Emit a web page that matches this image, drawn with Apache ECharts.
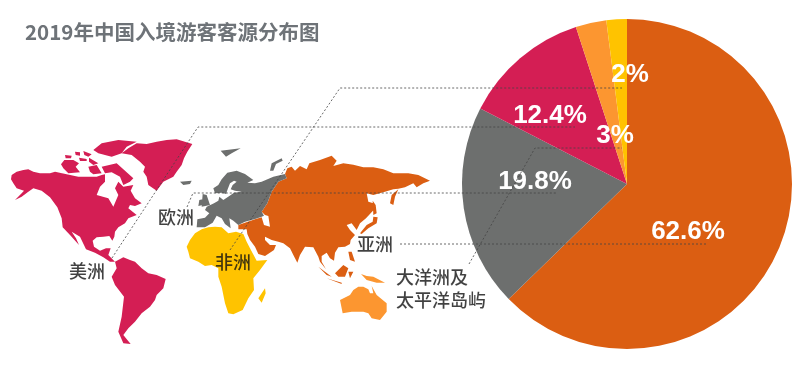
<!DOCTYPE html>
<html><head><meta charset="utf-8">
<style>html,body{margin:0;padding:0;background:#fff}#c{width:800px;height:367px}</style>
<script src="https://cdn.jsdelivr.net/npm/echarts@6/dist/echarts.min.js"></script>
</head><body><div id="c"></div>
<script>
const titleText = '2019年中国入境游客客源分布图';
const regions = ['亚洲','欧洲','美洲','大洋洲及太平洋岛屿','非洲'];
const shares = [62.6,19.8,12.4,3,2];
const colors = ['#DB5E12','#6D6F6E','#D41E54','#FC9630','#FFC300'];

// Continent outlines, in zoomed (3x) crop coordinates.
const Z1 = [0,120], Z2 = [150,130], Z3 = [190,150], Z5 = [55,135];
const americasZ1 = [
 [[35,165],[50,155],[70,150],[85,148],[100,155],[120,160],[150,160],[165,155],[200,163],[235,170],[270,170],[290,170],[305,165],[315,163],[315,185],[300,200],[290,225],[325,235],[340,260],[355,225],[345,205],[355,185],[370,200],[400,195],[392,212],[405,235],[425,250],[405,258],[390,255],[385,265],[410,285],[385,295],[375,310],[355,322],[345,335],[343,350],[337,362],[328,348],[310,350],[290,352],[278,362],[282,380],[300,392],[318,385],[332,385],[325,405],[345,425],[330,425],[310,412],[285,398],[258,388],[240,350],[215,335],[228,355],[237,375],[210,345],[188,322],[185,295],[172,262],[150,232],[125,212],[100,205],[85,215],[65,230],[45,240],[65,220],[72,212],[50,205],[40,190],[33,178]],
 [[345,425],[370,412],[390,420],[405,425],[425,445],[445,460],[470,465],[497,477],[490,505],[470,525],[465,540],[450,560],[425,580],[405,605],[385,625],[370,645],[392,672],[370,670],[355,635],[365,590],[372,530],[345,495],[335,470],[350,445]],
 [[365,100],[385,85],[410,70],[440,72],[470,65],[500,60],[530,58],[577,72],[562,95],[552,115],[545,135],[530,155],[520,170],[490,185],[470,212],[445,195],[440,170],[430,155],[435,140],[420,125],[395,105]],
 [[305,140],[350,130],[400,175],[390,185],[370,195],[360,170],[335,157],[315,160]]
];
const arcticZ5 = [
 [[18,88],[28,75],[55,75],[72,85],[62,95],[75,112],[40,115],[25,100]],
 [[30,60],[50,62],[48,70],[32,70]],
 [[60,50],[75,52],[75,62],[62,60]],
 [[85,48],[110,58],[100,65],[88,60]],
 [[72,68],[95,72],[95,78],[75,78]],
 [[102,68],[130,85],[115,90],[102,80]],
 [[100,95],[125,90],[140,115],[115,118],[105,110]],
 [[115,45],[140,25],[190,15],[245,20],[215,35],[200,55],[170,65],[130,55]]
];
const europeZ3 = [
 [[20,232],[22,208],[45,203],[58,190],[45,180],[50,170],[72,160],[85,152],[88,140],[100,150],[118,138],[132,128],[155,125],[135,122],[122,118],[128,105],[140,95],[132,92],[120,100],[113,118],[108,132],[95,128],[75,130],[70,115],[85,105],[95,88],[112,68],[140,62],[165,72],[190,90],[172,98],[195,100],[215,95],[250,80],[285,72],[290,85],[265,95],[245,125],[232,160],[215,185],[222,197],[215,200],[195,207],[165,215],[145,225],[130,212],[118,205],[122,235],[105,222],[95,205],[80,197],[68,218],[45,232]],
 [[38,132],[50,135],[60,165],[35,170]],
 [[28,150],[38,148],[38,165],[25,168]],
 [[240,62],[245,40],[275,25],[278,32],[258,42],[250,62]]
];
const europeIslesZ2 = [
 [[212,62],[272,55],[245,70],[228,80]],
 [[90,155],[125,152],[120,162],[100,165]]
];
const asiaZ2 = [
 [[405,132],[412,115],[425,110],[435,122],[450,108],[470,118],[478,100],[510,90],[545,77],[560,92],[550,108],[580,100],[610,104],[640,112],[670,112],[700,118],[730,130],[775,130],[805,135],[840,152],[820,160],[800,172],[790,160],[765,172],[745,176],[730,178],[705,185],[670,195],[650,190],[655,215],[670,220],[673,238],[648,265],[630,280],[620,300],[605,280],[590,285],[600,300],[615,315],[602,330],[600,342],[585,350],[565,352],[555,368],[552,392],[540,385],[530,368],[515,378],[515,395],[528,418],[510,395],[505,380],[490,352],[465,350],[450,375],[442,398],[430,375],[420,355],[400,340],[385,335],[365,330],[345,320],[345,330],[360,345],[378,345],[372,360],[345,378],[325,372],[315,350],[300,330],[292,312],[290,298],[265,298],[265,285],[315,268],[335,262],[342,285],[360,290],[355,258],[345,255],[335,245],[352,220],[365,185],[385,155],[410,145]],
 [[630,310],[650,285],[668,275],[670,260],[683,262],[680,280],[655,295],[635,312]],
 [[720,220],[725,195],[745,178],[735,200],[730,225]],
 [[668,212],[677,225],[680,250],[670,255]],
 [[595,365],[605,365],[615,395],[600,390]],
 [[555,430],[580,405],[595,415],[585,440],[565,440]],
 [[505,410],[545,440],[530,435]],
 [[530,445],[575,458],[575,462]],
 [[595,425],[610,425],[600,445]]
];
const africaZ2 = [
 [[110,350],[120,330],[135,310],[155,298],[175,292],[195,290],[215,292],[235,310],[258,305],[280,312],[290,335],[300,355],[320,392],[352,390],[330,420],[310,445],[312,480],[295,505],[290,515],[278,540],[250,553],[235,550],[225,520],[215,470],[205,440],[205,415],[185,405],[165,408],[145,395],[120,385],[115,365]],
 [[325,505],[345,475],[347,490],[335,518]]
];
const oceaniaZ2 = [
 [[570,510],[600,495],[610,480],[625,470],[640,470],[655,478],[660,490],[670,490],[665,468],[680,495],[710,520],[710,545],[690,570],[665,565],[655,550],[640,545],[605,545],[578,550]],
 [[633,432],[650,438],[670,440],[705,458],[680,458],[650,450]]
];

const toGeo = (o,rings)=>rings.map(r=>{const p=r.map(q=>[o[0]+q[0]/3,-(o[1]+q[1]/3)]);p.push(p[0]);return [p];});
const feat=(name,polys)=>({type:'Feature',properties:{name},geometry:{type:'MultiPolygon',coordinates:polys}});
echarts.registerMap('continents',{type:'FeatureCollection',features:[
 feat('亚洲',toGeo(Z2,asiaZ2)),
 feat('欧洲',toGeo(Z3,europeZ3).concat(toGeo(Z2,europeIslesZ2))),
 feat('美洲',toGeo(Z1,americasZ1).concat(toGeo(Z5,arcticZ5))),
 feat('大洋洲及太平洋岛屿',toGeo(Z2,oceaniaZ2)),feat('非洲',toGeo(Z2,africaZ2))]});

const continentLabels = [['美洲',87,271],['欧洲',176,217],['非洲',233,262],['亚洲',375,244],['大洋洲及',432,277],['太平洋岛屿',441,300]];
const leaders = [
 [[112,258],[198,127],[575,127]],
 [[230,250],[340,88],[622,88]],
 [[187,207],[193,193],[557,193]],
 [[400,244],[706,244]],
 [[469,264],[535,148],[622,148]]
];
const pieLabelCentres = [[688,232],[535,182],[550,116],[615,136],[630,75]];

const chart = echarts.init(document.getElementById('c'),null,{renderer:'canvas'});
chart.setOption({
 animation:false,
 title:{text:titleText,left:25,top:22,padding:0,textStyle:{fontFamily:'"Noto Sans CJK SC"',fontSize:20.5,fontWeight:'bold',color:'#6E7378'}},
 geo:{map:'continents',left:0,top:0,width:800,height:367,aspectScale:1,roam:false,silent:true,
  boundingCoords:[[0,0],[800,-367]],label:{show:false},
  itemStyle:{borderWidth:0,areaColor:'#ccc'},
  regions:regions.map((n,i)=>({name:n,itemStyle:{areaColor:colors[i],borderWidth:0}}))},
 series:[
  {type:'pie',center:[627,184],radius:[0,165],startAngle:90,clockwise:true,silent:true,z:3,
   data:regions.map((n,i)=>({name:n,value:shares[i],itemStyle:{color:colors[i]}})),
   label:{show:true,position:'inside',formatter:'{c}%',color:'#fff',fontFamily:'"Liberation Sans"',fontWeight:'bold',fontSize:26},
   labelLine:{show:false},
   labelLayout:p=>({x:pieLabelCentres[p.dataIndex][0],y:pieLabelCentres[p.dataIndex][1],align:'center',verticalAlign:'middle'})},
  {type:'lines',coordinateSystem:'geo',polyline:true,silent:true,z:4,
   data:leaders.map(l=>({coords:l.map(q=>[q[0],-q[1]])})),
   lineStyle:{color:'#444',width:0.8,type:[2,2],opacity:1}},
  {type:'scatter',coordinateSystem:'geo',symbolSize:0,silent:true,z:5,
   data:continentLabels.map(l=>({name:l[0],value:[l[1],-l[2]]})),
   label:{show:true,position:'inside',formatter:'{b}',color:'#111',fontFamily:'"Noto Sans CJK SC"',fontSize:18,fontWeight:500,align:'center',verticalAlign:'middle'}}
 ]
});
</script></body></html>
